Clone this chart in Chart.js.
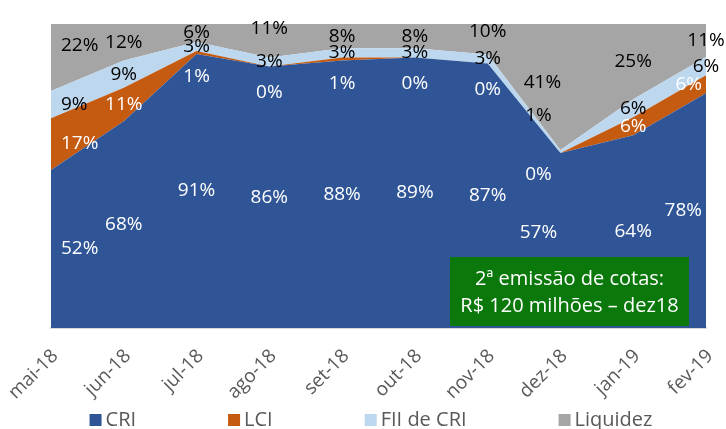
<!DOCTYPE html>
<html>
<head>
<meta charset="utf-8">
<script src="https://cdn.jsdelivr.net/npm/chart.js@4"></script>
<style>
  html, body { margin: 0; padding: 0; background: #fff; }
</style>
</head>
<body>
<canvas id="grafico" width="726" height="429"></canvas>
<script>
// dados (% da carteira)
const meses = ["mai-18", "jun-18", "jul-18", "ago-18", "set-18", "out-18", "nov-18", "dez-18", "jan-19", "fev-19"];
const cri = [52, 68, 91, 86, 88, 89, 87, 57, 64, 78];
const lci = [17, 11, 1, 0, 1, 0, 0, 0, 6, 6];
const fiiCri = [9, 9, 3, 3, 3, 3, 3, 1, 6, 6];
const liquidez = [22, 12, 6, 11, 8, 8, 10, 41, 25, 11];
const nota = ["2ª emissão de cotas:", "R$ 120 milhões – dez18"];

const series = [
    { nome: "CRI", valores: cri, cor: "#2f5597", corTexto: "#ffffff" },
    { nome: "LCI", valores: lci, cor: "#c55a11", corTexto: "#ffffff" },
    { nome: "FII de CRI", valores: fiiCri, cor: "#bdd7ee", corTexto: "#000000" },
    { nome: "Liquidez", valores: liquidez, cor: "#a5a5a5", corTexto: "#000000" },
];

// gráfico 100% empilhado: cada mês normalizado pela soma
const totais = meses.map((m, i) => series.reduce((s, d) => s + d.valores[i], 0));

const fonte = "'Open Sans', 'Noto Sans', sans-serif";

// pequenos ajustes de posição dos rótulos (como no Excel)
const ajustes = {
    "0,7": { dx: -22, dy: -8 },
    "1,7": { dx: -22, dy: -4 },
    "2,7": { dx: -22, dy: -36 },
    "3,7": { dx: -18, dy: -4 },
    "3,0": { dx: 0, dy: -12 },
    "3,3": { dx: 0, dy: -12 },
    "3,6": { dx: 0, dy: -8 },
};

const rotulos = {
    id: "rotulos",
    afterDatasetsDraw(chart) {
        const ctx = chart.ctx;
        const area = chart.chartArea;
        const y0 = chart.scales.y.getPixelForValue(0);
        ctx.save();
        ctx.font = "19px " + fonte;
        ctx.textAlign = "center";
        ctx.textBaseline = "middle";
        series.forEach((s, d) => {
            const meta = chart.getDatasetMeta(d);
            const anterior = d > 0 ? chart.getDatasetMeta(d - 1) : null;
            s.valores.forEach((v, i) => {
                const texto = v + "%";
                const w = ctx.measureText(texto).width;
                const topo = Math.max(meta.data[i].y, area.top);
                const base = anterior ? Math.max(anterior.data[i].y, area.top) : y0;
                let x = meta.data[i].x;
                let y = (topo + base) / 2;
                if (d === 1 && v <= 1) y = topo + 26;
                x = Math.max(x, area.left + w / 2 + 10);
                if (d <= 1) x = Math.min(x, area.right - w / 2 - 4);
                const aj = ajustes[d + "," + i];
                if (aj) { x += aj.dx; y += aj.dy; }
                ctx.fillStyle = s.corTexto;
                ctx.fillText(texto, x, y);
            });
        });
        ctx.restore();
    }
};

// caixa verde com a nota da emissão
const caixaNota = {
    id: "caixaNota",
    afterDatasetsDraw(chart) {
        const ctx = chart.ctx;
        const area = chart.chartArea;
        ctx.save();
        ctx.font = "20px " + fonte;
        const larg = 239, alt = 69;
        const x = area.right - 17 - larg;
        const y = area.bottom - 2 - alt;
        ctx.fillStyle = "#0b780b";
        ctx.fillRect(x, y, larg, alt);
        ctx.fillStyle = "#ffffff";
        ctx.textAlign = "center";
        ctx.textBaseline = "middle";
        ctx.fillText(nota[0], x + larg / 2, y + 22);
        ctx.fillText(nota[1], x + larg / 2, y + 49);
        ctx.restore();
    }
};

// legenda desenhada à mão para ter o espaçamento largo do original
const legenda = {
    id: "legenda",
    afterDraw(chart) {
        const ctx = chart.ctx;
        ctx.save();
        ctx.font = "20px " + fonte;
        ctx.textBaseline = "middle";
        const caixa = 12, folga = 4, espaco = 92;
        const larguras = series.map(s => caixa + folga + ctx.measureText(s.nome).width);
        const total = larguras.reduce((a, b) => a + b, 0) + espaco * (series.length - 1);
        let x = chart.width / 2 + 8 - total / 2;
        const y = 420;
        series.forEach((s, i) => {
            ctx.fillStyle = s.cor;
            ctx.fillRect(x, y - 6, caixa, caixa);
            ctx.fillStyle = "#595959";
            ctx.fillText(s.nome, x + caixa + folga, y);
            x += larguras[i] + espaco;
        });
        ctx.restore();
    }
};

const ctx = document.getElementById("grafico").getContext("2d");
new Chart(ctx, {
    type: "line",
    data: {
        labels: meses,
        datasets: series.map((s, d) => ({
            label: s.nome,
            data: s.valores.map((v, i) => v / totais[i] * 100),
            backgroundColor: s.cor,
            borderColor: s.cor,
            borderWidth: 0,
            pointRadius: 0,
            tension: 0,
            fill: d === 0 ? "origin" : "-1",
        })),
    },
    options: {
        responsive: false,
        animation: false,
        layout: { padding: { left: 51, right: 20, top: 24, bottom: 21 } },
        plugins: {
            legend: { display: false },
            tooltip: { enabled: false },
        },
        scales: {
            x: {
                offset: false,
                grid: { display: false },
                border: { color: "#d9d9d9", width: 2 },
                ticks: {
                    color: "#595959",
                    font: { family: fonte, size: 19 },
                    autoSkip: false,
                    minRotation: 45,
                    maxRotation: 45,
                    padding: 9,
                    labelOffset: 4,
                },
                afterFit(scale) {
                    scale.height = 80;
                    scale.paddingLeft = 0;
                    scale.paddingRight = 0;
                },
            },
            y: {
                display: false,
                stacked: true,
                min: 0,
                max: 100,
            },
        },
    },
    plugins: [rotulos, caixaNota, legenda],
});
</script>
</body>
</html>
